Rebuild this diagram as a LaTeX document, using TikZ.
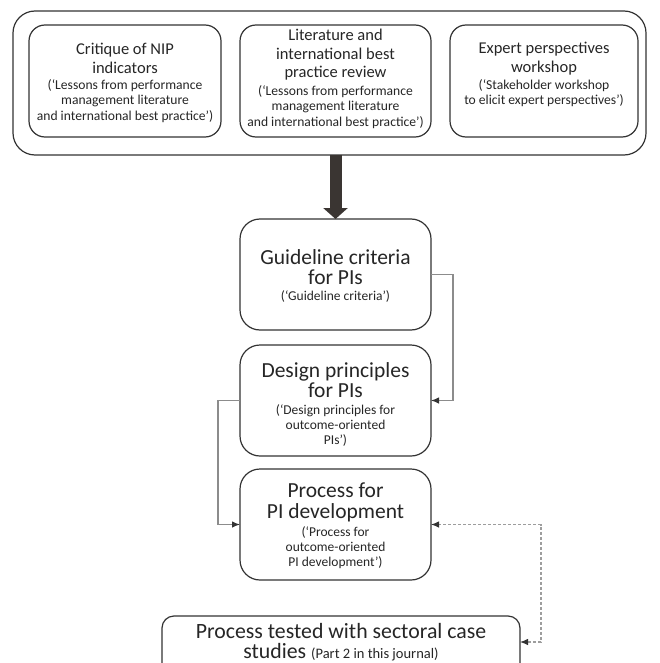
\documentclass[tikz,border=0pt]{standalone}
\usepackage{fontspec}
\setmainfont{Carlito}
\usetikzlibrary{arrows.meta,calc}
\definecolor{boxline}{HTML}{333333}
\definecolor{connline}{HTML}{8C8C8C}
\definecolor{tipdark}{HTML}{333333}
\definecolor{bigarrow}{HTML}{3A3532}
\definecolor{txtcol}{HTML}{262626}
\newcommand\ftopmain{\fontsize{16.5}{18.5}\selectfont}
\newcommand\ftopsub{\fontsize{13.6}{15.7}\selectfont}
\newcommand\fmidmain{\fontsize{21.5}{20.5}\selectfont}
\newcommand\fmidsub{\fontsize{13.5}{15}\selectfont}
\newcommand\fbotmain{\fontsize{21.8}{20.5}\selectfont}
\newcommand\fpart{\fontsize{14.5}{20}\selectfont}
\tikzset{
  panel/.style={draw=boxline, line width=1.2pt, rounded corners=#1, inner sep=0pt, outer sep=0pt},
  txt/.style={align=center, inner sep=0pt, text=txtcol},
  conn/.style={draw=connline, line width=1.1pt, -{Latex[length=8pt,width=6.5pt,color=tipdark]}},
  dashconn/.style={draw=connline!85, line width=1.1pt, dash pattern=on 3pt off 2pt,
    {Latex[length=8pt,width=6.5pt,color=tipdark]}-{Latex[length=8pt,width=6.5pt,color=tipdark]}}
}
\begin{document}
\begin{tikzpicture}[x=1pt,y=-1pt]
\clip (0,0) rectangle (659,663);
\fill[white] (0,0) rectangle (659,663);
% outer container and three input boxes
\node[panel=22pt, minimum width=633pt, minimum height=144pt] (outer) at (329.5,83) {};
\node[panel=16pt, minimum width=192pt, minimum height=112pt] (b1) at (125,81) {};
\node[panel=16pt, minimum width=191pt, minimum height=112pt] (b2) at (335.5,81) {};
\node[panel=16pt, minimum width=188pt, minimum height=112pt] (b3) at (544,81) {};
\node[txt, font=\ftopmain] (b1t) at (125,58.5) {Critique of NIP\\indicators};
\node[txt, font=\ftopsub] (b1s) at (125,101) {(‘Lessons from performance\\management literature\\and international best practice’)};
\node[txt, font=\ftopmain] (b2t) at (335.5,55) {Literature and\\international best\\practice review};
\node[txt, font=\ftopsub] (b2s) at (335.5,107) {(‘Lessons from performance\\management literature\\and international best practice’)};
\node[txt, font=\ftopmain] (b3t) at (544,58.5) {Expert perspectives\\workshop};
\node[txt, font=\ftopsub] (b3s) at (544,93) {(‘Stakeholder workshop\\to elicit expert perspectives’)};
% middle boxes
\node[panel=20pt, minimum width=191pt, minimum height=111pt] (gl) at (335.5,274.5) {};
\node[panel=20pt, minimum width=191pt, minimum height=111pt] (dp) at (335.5,400.5) {};
\node[panel=20pt, minimum width=191pt, minimum height=111pt] (pr) at (335.5,524.5) {};
\node[txt, font=\fmidmain] (glt) at (335.5,267) {Guideline criteria\\for PIs};
\node[txt, font=\fmidsub] (gls) at (335.5,296) {(‘Guideline criteria’)};
\node[txt, font=\fmidmain] (dpt) at (335.5,380) {Design principles\\for PIs};
\node[txt, font=\fmidsub] (dps) at (335.5,425.5) {(‘Design principles for\\outcome-oriented\\PIs’)};
\node[txt, font=\fmidmain] (prt) at (335.5,502.5) {Process for\\PI development};
\node[txt, font=\fmidsub] (prs) at (335.5,548) {(‘Process for\\outcome-oriented\\PI development’)};
% bottom box (cut off by the frame)
\node[panel=12pt, minimum width=358pt, minimum height=84pt] (bt) at (341,658) {};
\node[txt, font=\fbotmain] (btt) at (341,642) {Process tested with sectoral case\\studies {\fpart(Part 2 in this journal)}};
% big arrow
\draw[bigarrow, line width=12pt, -{Triangle[length=11pt,width=24pt]}] (gl.north |- outer.south) -- (gl.north);
% connectors
\coordinate (r1) at (453,274.5);
\coordinate (r2) at (453,400.5);
\draw[conn] (gl.east) -- (r1) -- (r2) -- (dp.east);
\coordinate (l1) at (218,400.5);
\coordinate (l2) at (218,524.5);
\draw[conn] (dp.west) -- (l1) -- (l2) -- (pr.west);
\coordinate (d1) at (541,524.5);
\coordinate (d2) at (541,642);
\draw[dashconn] (pr.east) -- (d1) -- (d2) -- (bt.east |- d2);
\end{tikzpicture}
\end{document}
